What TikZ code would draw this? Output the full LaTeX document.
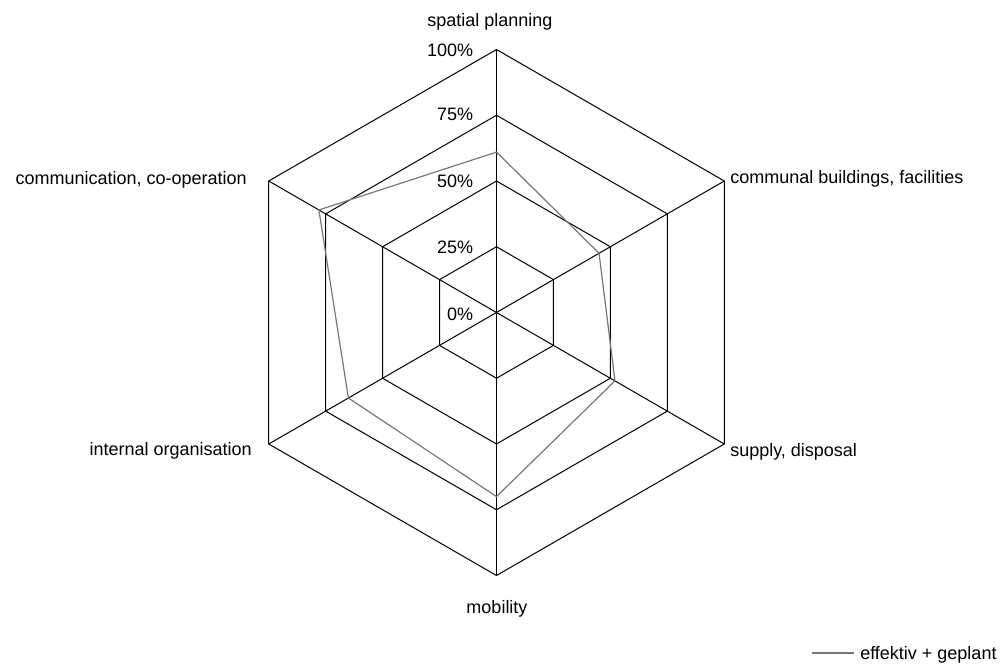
\documentclass[tikz,border=0pt]{standalone}
\usepackage{fontspec}
\setmainfont{Liberation Sans}
\usepackage{tikz}

\begin{document}
\begin{tikzpicture}[x=0.75pt, y=0.75pt,
	grid/.style={black, line width=0.75pt, line join=miter},
	data/.style={draw={rgb,255:red,120;green,120;blue,120}, line width=0.9pt},
	lbl/.style={inner sep=0pt, font=\fontsize{13.5}{16}\selectfont}]
	\useasboundingbox (-496.5,-351.5) rectangle (509.5,312.5);
	\coordinate (O) at (0,0);
	
	% rings at 25, 50, 75 and 100 %
	\foreach \r in {65.75,131.5,197.25,263}
		\draw[grid] (90:\r) -- (30:\r) -- (-30:\r) -- (-90:\r) -- (-150:\r) -- (150:\r) -- cycle;
	\foreach \a in {90,30,-30,-90,-150,150}
		\draw[grid] (O) -- (\a:263);
	
	% scale
	\foreach \p/\y in {0/-7.5, 25/59.5, 50/125, 75/191.5, 100/255.5}
		\node[lbl, anchor=base east] (pct\p) at (-23,\y) {\p\%};
	
	% categories
	\node[lbl, anchor=base] (spatial) at (-6.5,285.8) {spatial planning};
	\node[lbl, anchor=base west] (communal) at (233.5,128.5) {communal buildings, facilities};
	\node[lbl, anchor=base west] (supply) at (233.5,-143.5) {supply, disposal};
	\node[lbl, anchor=base] (mobility) at (0.5,-300.5) {mobility};
	\node[lbl, anchor=base east] (internal) at (-244.5,-142.5) {internal organisation};
	\node[lbl, anchor=base east] (communic) at (-249.5,127.5) {communication, co-operation};
	
	% values
	\draw[data] (90:160.4) -- (30:118.4) -- (-30:136.8) -- (-90:184.1) -- (-150:171) -- (150:205.1) -- cycle;
	
	% legend
	\coordinate (legA) at (315.5,-340.5);
	\coordinate (legB) at (357.5,-340.5);
	\draw[data] (legA) -- (legB);
	\node[lbl, anchor=base west] (legtext) at (363.5,-346.5) {effektiv + geplant};
\end{tikzpicture}
\end{document}
